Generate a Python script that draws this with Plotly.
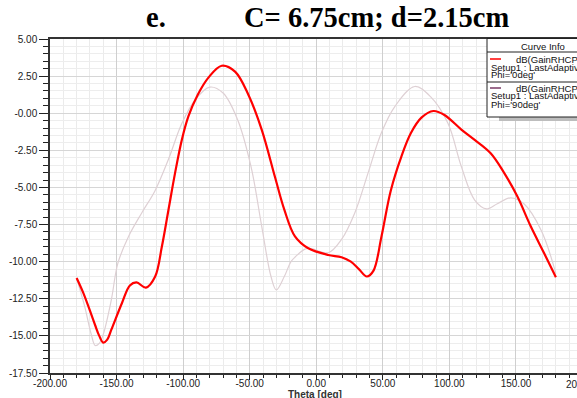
import plotly.graph_objects as go

# ---- data ----
theta_phi0 = [-180, -175, -170, -166, -163, -160, -157, -154, -146, -140, -135, -128, -121, -116,
              -111, -106, -101, -96, -89, -81, -71, -61, -51, -41, -31, -24, -16, -6, 9, 19, 26,
              32, 38, 43, 49, 56, 64, 71, 79, 88, 96, 109, 119, 131, 141, 151, 161, 171, 180]
gain_phi0 = [-11.1, -12.1, -13.3, -14.3, -15.0, -15.45, -15.25, -14.6, -12.8, -11.6, -11.4, -11.75,
             -11.0, -9.0, -6.5, -4.0, -1.8, -0.2, 1.25, 2.4, 3.2, 2.8, 1.25, -1.1, -4.3, -6.5,
             -8.3, -9.1, -9.55, -9.7, -10.0, -10.5, -11.0, -10.6, -8.3, -5.2, -2.9, -1.35, -0.3,
             0.15, -0.1, -1.1, -1.8, -2.7, -4.0, -5.6, -7.6, -9.4, -11.05]

theta_phi90 = [-180, -174, -169, -166, -163, -160, -154, -149, -141, -131, -121, -111, -101, -91,
               -80, -70, -59, -49, -41, -34, -30, -24, -19, -16, -7, 9, 19, 29, 39, 49, 59, 74,
               86, 99, 109, 119, 128, 136, 146, 156, 169, 180]
gain_phi90 = [-11.1, -13.0, -14.9, -15.65, -15.5, -14.9, -12.6, -10.1, -8.3, -6.7, -5.2, -3.1,
              -0.7, 0.9, 1.76, 1.36, -0.45, -3.6, -7.6, -11.0, -11.9, -11.0, -10.0, -9.7, -9.1,
              -9.4, -8.5, -6.7, -4.0, -1.3, 0.45, 1.8, 1.1, -0.7, -3.6, -5.85, -6.45, -6.1, -5.7,
              -6.1, -7.9, -10.8]

x_tickvals = [-200, -150, -100, -50, 0, 50, 100, 150]
x_ticktext = ["-200.00", "-150.00", "-100.00", "-50.00", "0.00", "50.00", "100.00", "150.00"]
y_tickvals = [5, 2.5, 0, -2.5, -5, -7.5, -10, -12.5, -15, -17.5]
y_ticktext = ["5.00", "2.50", "-0.00", "-2.50", "-5.00", "-7.50", "-10.00", "-12.50", "-15.00", "-17.50"]

title_left = "e."
title_right = "C= 6.75cm; d=2.15cm"
legend_entries = [
    ("dB(GainRHCP)", "Setup1 : LastAdaptive", "Phi='0deg'", "#ff0000"),
    ("dB(GainRHCP)", "Setup1 : LastAdaptive", "Phi='90deg'", "#7a3a66"),
]

W, H = 577, 398
L, R, T, B = 50, 0, 39, 25
X0, X1 = L, W - R
Y1, Y0 = T, H - B


def px(x):
    return (x - X0) / (X1 - X0)


def py(y):
    return (Y0 - y) / (Y0 - Y1)


fig = go.Figure()
fig.add_trace(go.Scatter(x=theta_phi90, y=gain_phi90, mode="lines",
                         line=dict(color="rgb(222,208,212)", width=1.2, shape="spline", smoothing=1.0),
                         showlegend=False))
fig.add_trace(go.Scatter(x=theta_phi0, y=gain_phi0, mode="lines",
                         line=dict(color="#ff0000", width=2.2, shape="spline", smoothing=1.0),
                         showlegend=False))

tick_font = dict(family="Liberation Sans, Arial, sans-serif", size=10, color="#222")

fig.update_xaxes(range=[-200, -200 + (X1 - X0) / 1.3313], tickmode="array",
                 tickvals=x_tickvals, ticktext=x_ticktext, tickfont=tick_font,
                 ticks="outside", ticklen=5, tickcolor="#222", tickwidth=1,
                 ticklabelstandoff=-5,
                 showline=True, linecolor="#333", linewidth=1.5, mirror=True,
                 showgrid=True, gridcolor="#cfcfcf", gridwidth=1, zeroline=False,
                 minor=dict(dtick=10, tick0=0, ticks="outside", ticklen=3, tickcolor="#222",
                            showgrid=True, gridcolor="#ebebeb", gridwidth=1))
fig.update_yaxes(range=[-17.5, 5], tickmode="array", tickvals=y_tickvals, ticktext=y_ticktext,
                 tickfont=tick_font, ticks="outside", ticklen=9, tickcolor="#222", tickwidth=1,
                 showline=True, linecolor="#333", linewidth=1.5,
                 showgrid=True, gridcolor="#d6d6d6", gridwidth=1, zeroline=False,
                 minor=dict(dtick=0.5, tick0=0, ticks="outside", ticklen=5, tickcolor="#222",
                            showgrid=True, gridcolor="#ededed", gridwidth=1))

ann = []
# title
title_font = dict(family="Liberation Serif, Times New Roman, serif", size=28.5, color="#000")
ann.append(dict(x=px(155.5), y=py(35), xref="paper", yref="paper", xanchor="center",
                yanchor="bottom", text="<b>%s</b>" % title_left, showarrow=False, font=title_font))
ann.append(dict(x=px(242), y=py(35), xref="paper", yref="paper", xanchor="left",
                yanchor="bottom", text="<b>%s</b>" % title_right, showarrow=False, font=title_font))
# partially visible 200.00 label at right edge
ann.append(dict(x=px(581), y=py(Y0 + 4), xref="paper", yref="paper", xanchor="center",
                yanchor="top", text="200.00", showarrow=False, font=tick_font))
# x axis title (cut off at bottom)
ann.append(dict(x=px(315), y=py(387), xref="paper", yref="paper", xanchor="center",
                yanchor="top", text="<b>Theta [deg]</b>", showarrow=False,
                font=dict(family="Liberation Sans, Arial, sans-serif", size=10, color="#333")))

shapes = []
# legend box with shadow
shapes.append(dict(type="rect", xref="paper", yref="paper", x0=px(499), x1=px(590),
                   y0=py(121), y1=py(117), fillcolor="#bdbdbd", line=dict(width=0)))
shapes.append(dict(type="rect", xref="paper", yref="paper", x0=px(487), x1=px(590),
                   y0=py(117), y1=py(38.5), fillcolor="white", line=dict(color="#222", width=1)))
shapes.append(dict(type="line", xref="paper", yref="paper", x0=px(487), x1=px(590),
                   y0=py(52), y1=py(52), line=dict(color="#222", width=1)))
shapes.append(dict(type="line", xref="paper", yref="paper", x0=px(487), x1=px(590),
                   y0=py(82), y1=py(82), line=dict(color="#222", width=1)))

leg_font = dict(family="Liberation Sans, Arial, sans-serif", size=9.5, color="#111")
ann.append(dict(x=px(543), y=py(46), xref="paper", yref="paper", xanchor="center",
                yanchor="middle", text="Curve Info", showarrow=False, font=leg_font, borderpad=0))
for i, (l1, l2, l3, col) in enumerate(legend_entries):
    y0 = 59 + i * 29
    shapes.append(dict(type="line", xref="paper", yref="paper", x0=px(490), x1=px(501),
                       y0=py(y0), y1=py(y0), line=dict(color=col, width=1.5)))
    ann.append(dict(x=px(515), y=py(y0), xref="paper", yref="paper", xanchor="left",
                    yanchor="middle", text=l1, showarrow=False, font=leg_font, borderpad=0))
    ann.append(dict(x=px(490), y=py(y0 + 8), xref="paper", yref="paper", xanchor="left",
                    yanchor="middle", text=l2, showarrow=False, font=leg_font, borderpad=0))
    ann.append(dict(x=px(490), y=py(y0 + 16), xref="paper", yref="paper", xanchor="left",
                    yanchor="middle", text=l3, showarrow=False, font=leg_font, borderpad=0))

fig.update_layout(width=W, height=H, margin=dict(l=L, r=R, t=T, b=B, pad=0),
                  paper_bgcolor="white", plot_bgcolor="white", showlegend=False,
                  annotations=ann, shapes=shapes)

fig.write_html("out.html")
